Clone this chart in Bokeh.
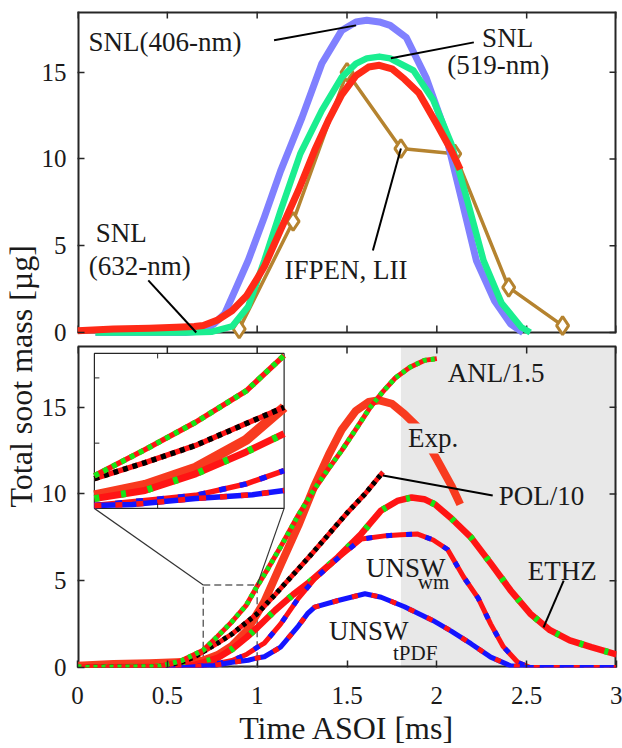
import numpy as np
from bokeh.plotting import figure
from bokeh.models import Range1d, FixedTicker, Label, BoxAnnotation, Title
from bokeh.embed import file_html
from bokeh.resources import INLINE

# ---------------- data ----------------
X_TICKS = [0, 0.5, 1, 1.5, 2, 2.5, 3]
X_TICK_LABELS = ["0", "0.5", "1", "1.5", "2", "2.5", "3"]
Y_TICKS = [0, 5, 10, 15]
Y_TICK_LABELS = ["0", "5", "10", "15"]
X_MAX = 3.0
Y_MAX = 18.5

# upper panel (experiments)
SNL406_T = [0.1, 0.6, 0.7, 0.76, 0.82, 0.88, 0.95, 1.04, 1.13, 1.19, 1.25, 1.36, 1.47, 1.55, 1.61, 1.68,
            1.74, 1.83, 1.94, 2.04, 2.13, 2.22, 2.32, 2.41, 2.48]
SNL406_V = [0.0, 0.0, 0.1, 0.5, 1.1, 2.5, 4.15, 6.65, 9.3, 10.85, 12.4, 15.5, 17.4, 17.9, 18.0, 17.9,
            17.7, 17.0, 14.7, 11.8, 8.0, 4.15, 1.85, 0.5, 0.0]
SNL519_T = [0.1, 0.6, 0.75, 0.86, 0.95, 1.04, 1.13, 1.24, 1.36, 1.47, 1.55, 1.61, 1.68, 1.74, 1.87,
            1.98, 2.08, 2.17, 2.26, 2.36, 2.47, 2.52]
SNL519_V = [0.0, 0.0, 0.05, 0.35, 1.5, 4.15, 7.0, 10.3, 12.8, 14.7, 15.5, 15.8, 15.9, 15.8, 15.1,
            13.4, 10.9, 7.6, 4.15, 1.7, 0.3, 0.0]
EXP_T = [0.0, 0.2, 0.4, 0.55, 0.65, 0.7, 0.78, 0.86, 0.94, 1.0, 1.04, 1.13, 1.23, 1.32, 1.4, 1.47,
         1.55, 1.62, 1.68, 1.75, 1.82, 1.9, 2.0, 2.08, 2.13]
EXP_V = [0.1, 0.2, 0.25, 0.3, 0.35, 0.4, 0.72, 1.25, 2.1, 3.1, 3.8, 5.9, 8.2, 10.5, 12.3, 13.7,
         14.8, 15.3, 15.4, 15.2, 14.6, 13.8, 12.0, 10.5, 9.4]
IFPEN_T = [0.9, 1.2, 1.5, 1.8, 2.1, 2.4, 2.7]
IFPEN_V = [0.2, 6.4, 15.0, 10.6, 10.3, 2.6, 0.4]

# lower panel (models)
ANL_T = [0.0, 0.45, 0.58, 0.7, 0.78, 0.86, 0.94, 1.0, 1.06, 1.13, 1.23, 1.32, 1.4, 1.47, 1.56, 1.63,
         1.7, 1.77, 1.85, 1.93, 2.0]
ANL_V = [0.0, 0.05, 0.4, 1.0, 1.8, 2.64, 3.6, 4.69, 5.7, 6.94, 8.8, 10.3, 11.5, 12.5, 13.9, 15.0,
         15.9, 16.7, 17.3, 17.7, 17.8]
POL_T = [0.0, 0.45, 0.58, 0.65, 0.7, 0.78, 0.86, 0.94, 1.0, 1.1, 1.2, 1.3, 1.4, 1.5, 1.6, 1.7]
POL_V = [0.0, 0.05, 0.31, 0.6, 0.91, 1.4, 1.93, 2.6, 3.1, 4.2, 5.35, 6.5, 7.7, 8.9, 10.0, 11.26]
ETHZ_T = [0.0, 0.55, 0.65, 0.7, 0.78, 0.86, 0.94, 1.0, 1.1, 1.2, 1.3, 1.45, 1.58, 1.69, 1.78, 1.86,
          1.93, 1.99, 2.08, 2.19, 2.3, 2.41, 2.52, 2.63, 2.74, 2.86, 3.0]
ETHZ_V = [0.0, 0.05, 0.15, 0.3, 0.55, 1.06, 1.73, 2.29, 3.3, 4.2, 5.0, 6.36, 7.71, 9.05, 9.6, 9.8,
          9.7, 9.4, 8.6, 7.5, 6.0, 4.45, 3.1, 2.15, 1.56, 1.17, 0.75]
WM_T = [0.0, 0.6, 0.7, 0.8, 0.86, 0.94, 1.0, 1.04, 1.13, 1.23, 1.32, 1.45, 1.58, 1.72, 1.8, 1.89,
        1.98, 2.06, 2.15, 2.23, 2.3, 2.37, 2.45, 2.52, 3.0]
WM_V = [0.0, 0.02, 0.09, 0.28, 0.4, 0.75, 1.16, 1.4, 2.5, 4.0, 5.1, 6.3, 7.4, 7.6, 7.65, 7.7,
        7.35, 6.8, 5.2, 4.0, 2.5, 1.2, 0.3, 0.0, 0.0]
TPDF_T = [0.1, 0.6, 0.7, 0.76, 0.86, 0.95, 1.0, 1.04, 1.13, 1.23, 1.28, 1.32, 1.45, 1.6, 1.69, 1.82,
          1.98, 2.08, 2.19, 2.3, 2.41, 2.5, 3.0]
TPDF_V = [0.0, 0.0, 0.09, 0.12, 0.3, 0.42, 0.55, 0.62, 1.17, 2.4, 3.1, 3.48, 3.86, 4.25, 4.05, 3.5,
          2.7, 2.1, 1.37, 0.6, 0.1, 0.0, 0.0]

SHADE_START = 1.8
INSET_T = [0.7, 1.0]
INSET_V = [0.0, 4.75]
INSET_X_TICKS = [0.8]
INSET_Y_TICKS = [2, 4]

# annotation texts: (text, t, v, align, size)
TOP_TEXTS = [("SNL(406-nm)", 0.061, 16.72, "left", 27), ("SNL", 2.394, 16.95, "center", 27),
             ("(519-nm)", 2.342, 15.4, "center", 27), ("IFPEN, LII", 1.494, 3.58, "center", 27),
             ("SNL", 0.244, 5.71, "center", 27), ("(632-nm)", 0.347, 3.86, "center", 27)]
TOP_LEAD_T0 = [1.094, 2.206, 1.644, 0.394]
TOP_LEAD_V0 = [16.84, 16.72, 4.73, 3.0]
TOP_LEAD_T1 = [1.550, 1.744, 1.8, 0.661]
TOP_LEAD_V1 = [17.7, 15.8, 10.61, 0.0]
BOT_TEXTS = [("ANL/1.5", 2.061, 16.95, "left", 27), ("POL/10", 2.344, 9.91, "left", 27),
             ("UNSW", 1.606, 5.76, "left", 27), ("wm", 1.894, 4.9, "left", 21),
             ("ETHZ", 2.506, 5.59, "left", 27), ("UNSW", 1.4, 2.13, "left", 27),
             ("tPDF", 1.756, 0.81, "left", 21)]
EXP_TEXT = ("Exp.", 1.839, 13.2)
BOT_LEAD_T0 = [1.7, 2.706]
BOT_LEAD_V0 = [11.07, 5.01]
BOT_LEAD_T1 = [2.311, 2.594]
BOT_LEAD_V1 = [9.91, 2.31]
INSET_BOX_T = [0.094, 1.15]
INSET_BOX_V = [9.17, 18.1]
YLABEL = "Total soot mass [µg]"
XLABEL = "Time ASOI [ms]"

# ---------------- style ----------------
FONT = "Liberation Serif"
AXC = "#262626"
TXT = "#1a1a1a"
C406, C519, C632, CIFP = "#8080ff", "#1aee90", "#ff2a17", "#b5832f"
CEXP = "#f83a1f"
CRED, CGRN, CBLU, CBLK = "#ff1414", "#16e616", "#1414ff", "#000000"
SHADE = "#e8e8e8"

W, H = 622, 748
LEFT, RIGHT, TOP, BOTTOM = 76, 6, 11, 81
PANEL_PX = 321
GAP_PX = H - TOP - BOTTOM - 2 * PANEL_PX
PX_PER_UNIT = PANEL_PX / Y_MAX
PX_PER_T = (W - LEFT - RIGHT) / X_MAX
OFF = Y_MAX * (PANEL_PX + GAP_PX) / PANEL_PX
YB_END = Y_MAX * (2 * PANEL_PX + GAP_PX) / PANEL_PX
TICK_PX = 7

p = figure(width=W, height=H, x_range=Range1d(0, X_MAX), y_range=Range1d(0, YB_END),
           min_border_left=LEFT, min_border_right=RIGHT, min_border_top=TOP,
           min_border_bottom=BOTTOM, output_backend="svg", toolbar_location=None)
p.extra_y_ranges = {"top": Range1d(-OFF, Y_MAX)}
p.grid.visible = False
p.outline_line_color = None
p.background_fill_color = "white"
p.border_fill_color = "white"

# axes (left: both panels share one axis, labels repeated per panel)
yt = Y_TICKS + [OFF + y for y in Y_TICKS]
ylab = {}
for y, s in zip(Y_TICKS, Y_TICK_LABELS):
    ylab[y] = s
    ylab[OFF + y] = s
xa = p.below[0]
ya = p.left[0]
xa.ticker = FixedTicker(ticks=X_TICKS)
xa.major_label_overrides = {t: s for t, s in zip(X_TICKS, X_TICK_LABELS)}
ya.ticker = FixedTicker(ticks=yt)
ya.major_label_overrides = ylab
for ax in (xa, ya):
    ax.axis_line_color = None
    ax.major_tick_in = TICK_PX
    ax.major_tick_out = 0
    ax.minor_tick_in = 0
    ax.minor_tick_out = 0
    ax.major_tick_line_color = AXC
    ax.major_tick_line_width = 1.5
    ax.major_label_text_font = FONT
    ax.major_label_text_font_size = "25px"
    ax.major_label_text_color = TXT
xa.major_label_standoff = 19
ya.major_label_standoff = 11
xa.axis_label = XLABEL
xa.axis_label_text_font = FONT
xa.axis_label_text_font_size = "32px"
xa.axis_label_text_font_style = "normal"
xa.axis_label_text_color = TXT
xa.axis_label_standoff = 3

# y-axis title spanning both panels (starts 160 px above the lower frame edge)
p.add_layout(Title(text=YLABEL, align="left", offset=160, standoff=0, text_font=FONT,
                   text_font_size="32px", text_font_style="normal", text_color=TXT), "left")

# shaded region (lower panel)
p.add_layout(BoxAnnotation(left=SHADE_START, right=X_MAX, bottom=0, top=Y_MAX, fill_color=SHADE,
                           fill_alpha=1.0, line_color=None, level="underlay"))

# panel frames
p.segment(x0=[0, 0, X_MAX, 0, 0, X_MAX], y0=[0, 0, 0, YB_END, OFF, OFF],
          x1=[X_MAX, 0, X_MAX, X_MAX, 0, X_MAX], y1=[0, Y_MAX, Y_MAX, YB_END, YB_END, YB_END],
          line_color=AXC, line_width=4)
p.segment(x0=[0, 0], y0=[Y_MAX, OFF], x1=[X_MAX, X_MAX], y1=[Y_MAX, OFF], line_color=AXC, line_width=2)
# mirrored ticks (inner edges, top edge, right edge)
tl = TICK_PX / PX_PER_UNIT
tx = TICK_PX / PX_PER_T
n = len(X_TICKS)
p.segment(x0=X_TICKS * 3, y0=[Y_MAX] * n + [OFF] * n + [YB_END] * n,
          x1=X_TICKS * 3, y1=[Y_MAX - tl] * n + [OFF + tl] * n + [YB_END - tl] * n,
          line_color=AXC, line_width=1.5)
p.segment(x0=[X_MAX] * len(yt), y0=yt, x1=[X_MAX - tx] * len(yt), y1=yt, line_color=AXC, line_width=1.5)

# ---------------- upper panel ----------------
p.line(IFPEN_T, IFPEN_V, line_color=CIFP, line_width=3.5, y_range_name="top")
p.scatter(IFPEN_T, IFPEN_V, marker="diamond", size=18, line_color=CIFP, line_width=3,
          fill_color="white", y_range_name="top")
p.line(SNL406_T, SNL406_V, line_color=C406, line_width=7, line_join="round", y_range_name="top")
p.line(SNL519_T, SNL519_V, line_color=C519, line_width=6.5, line_join="round", y_range_name="top")
p.line(EXP_T, EXP_V, line_color=C632, line_width=7, line_join="round", y_range_name="top")
p.segment(x0=TOP_LEAD_T0, y0=TOP_LEAD_V0, x1=TOP_LEAD_T1, y1=TOP_LEAD_V1, line_color=CBLK,
          line_width=2, y_range_name="top")
for text, t, v, al, fs in TOP_TEXTS:
    p.add_layout(Label(x=t, y=v, text=text, text_font=FONT, text_font_size=f"{fs}px", text_color=TXT,
                       text_align=al, text_baseline="middle", y_range_name="top"))

# ---------------- lower panel ----------------
p.quad(left=[INSET_T[0]], right=[INSET_T[1]], bottom=[INSET_V[0]], top=[INSET_V[1]], fill_color=None,
       line_color="#666666", line_width=1.5, line_dash="7 4")


def dual(t, v, base, over, w, dash, **kw):
    p.line(t, v, line_color=base, line_width=w, line_join="round", **kw)
    p.line(t, v, line_color=over, line_width=w, line_dash=dash, **kw)


p.line(EXP_T, EXP_V, line_color=CEXP, line_width=8, line_join="round")
dual(ETHZ_T, ETHZ_V, CRED, CGRN, 6.5, "4 22")
dual(WM_T, WM_V, CRED, CBLU, 5, "6 14")
dual(TPDF_T, TPDF_V, CBLU, CRED, 5, "6 14")
dual(POL_T, POL_V, CRED, CBLK, 5, "4 4")
dual(ANL_T, ANL_V, CRED, CGRN, 5, "4 4")

p.segment(x0=BOT_LEAD_T0, y0=BOT_LEAD_V0, x1=BOT_LEAD_T1, y1=BOT_LEAD_V1, line_color=CBLK, line_width=2)
for text, t, v, al, fs in BOT_TEXTS:
    p.add_layout(Label(x=t, y=v, text=text, text_font=FONT, text_font_size=f"{fs}px", text_color=TXT,
                       text_align=al, text_baseline="middle"))
p.add_layout(Label(x=EXP_TEXT[1], y=EXP_TEXT[2], text=EXP_TEXT[0], text_font=FONT, text_font_size="27px",
                   text_color=TXT, text_align="left", text_baseline="middle",
                   background_fill_color=SHADE, background_fill_alpha=1.0))

# connectors from inset to zoomed box
p.segment(x0=[INSET_BOX_T[0], INSET_BOX_T[1]], y0=[INSET_BOX_V[0], INSET_BOX_V[0]],
          x1=[INSET_T[0], INSET_T[1]], y1=[INSET_V[1], INSET_V[1]], line_color="#333333", line_width=1.2)

# ---------------- inset ----------------
sx = (INSET_BOX_T[1] - INSET_BOX_T[0]) / (INSET_T[1] - INSET_T[0])
sy = (INSET_BOX_V[1] - INSET_BOX_V[0]) / (INSET_V[1] - INSET_V[0])
p.extra_x_ranges = {"inset": Range1d(INSET_T[0] - INSET_BOX_T[0] / sx,
                                     INSET_T[1] + (X_MAX - INSET_BOX_T[1]) / sx)}
p.extra_y_ranges["inset"] = Range1d(INSET_V[0] - INSET_BOX_V[0] / sy,
                                    INSET_V[1] + (YB_END - INSET_BOX_V[1]) / sy)
ik = dict(x_range_name="inset", y_range_name="inset")
p.quad(left=[INSET_T[0]], right=[INSET_T[1]], bottom=[INSET_V[0]], top=[INSET_V[1]], fill_color="white",
       line_color=AXC, line_width=1.2, **ik)


def clip(t, v):
    t = np.asarray(t, float)
    v = np.asarray(v, float)
    m = (t >= INSET_T[0] - 1e-9) & (t <= INSET_T[1] + 1e-9)
    return t[m], v[m]


def dual_i(t, v, base, over, w, dash):
    t, v = clip(t, v)
    p.line(t, v, line_color=base, line_width=w, line_join="round", **ik)
    p.line(t, v, line_color=over, line_width=w, line_dash=dash, **ik)


te, ve = clip(EXP_T, EXP_V)
p.line(te, ve, line_color=CEXP, line_width=10, line_join="round", **ik)
dual_i(ETHZ_T, ETHZ_V, CRED, CGRN, 7, "5 22")
dual_i(WM_T, WM_V, CRED, CBLU, 5.5, "7 14")
dual_i(TPDF_T, TPDF_V, CBLU, CRED, 5.5, "7 14")
dual_i(POL_T, POL_V, CRED, CBLK, 5.5, "5 5")
dual_i(ANL_T, ANL_V, CRED, CGRN, 5.5, "5 5")

itx = 5 / (PX_PER_T * sx)
ity = 5 / (PX_PER_UNIT * sy)
p.segment(x0=[INSET_T[0]] * len(INSET_Y_TICKS), y0=INSET_Y_TICKS,
          x1=[INSET_T[0] + itx] * len(INSET_Y_TICKS), y1=INSET_Y_TICKS, line_color=AXC, line_width=1, **ik)
p.segment(x0=INSET_X_TICKS * 2, y0=[INSET_V[0]] * len(INSET_X_TICKS) + [INSET_V[1]] * len(INSET_X_TICKS),
          x1=INSET_X_TICKS * 2,
          y1=[INSET_V[0] + ity] * len(INSET_X_TICKS) + [INSET_V[1] - ity] * len(INSET_X_TICKS),
          line_color=AXC, line_width=1, **ik)

open("out.html", "w").write(file_html(p, INLINE))
